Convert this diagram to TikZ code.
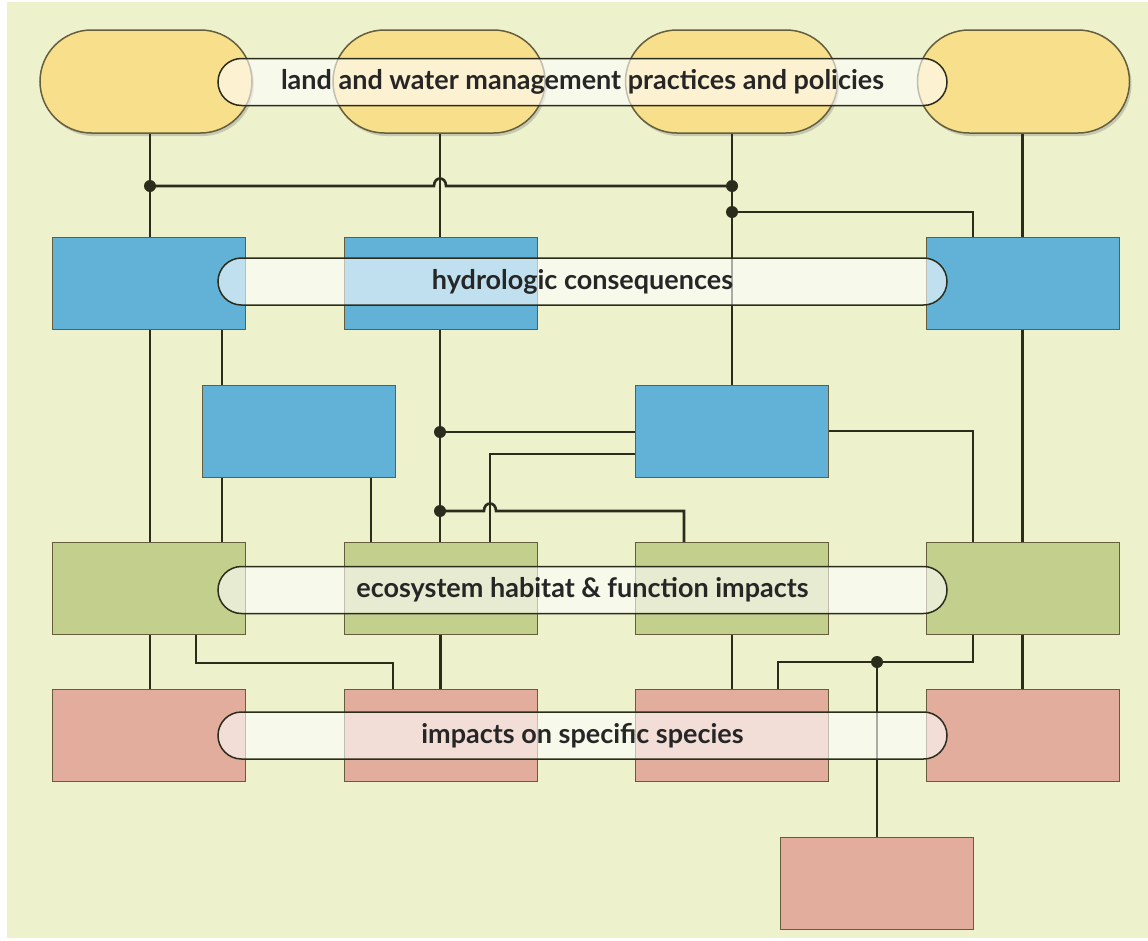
\documentclass[tikz,border=0pt]{standalone}
\usepackage{fontspec}
\setsansfont{Lato}
\usetikzlibrary{shapes.misc,shadows}

\definecolor{bgpale}{RGB}{237,241,204}
\definecolor{pillyellow}{RGB}{248,223,140}
\definecolor{hydroblue}{RGB}{98,178,216}
\definecolor{ecogreen}{RGB}{195,207,141}
\definecolor{speciesred}{RGB}{226,173,156}
\definecolor{wirecol}{RGB}{42,45,28}
\definecolor{rim}{RGB}{100,94,60}

\begin{document}
\begin{tikzpicture}[x=1pt,y=-1pt,
    link/.style={draw=wirecol,line width=2.6pt},
    actor/.style={rounded rectangle,draw=rim,line width=1.5pt,fill=pillyellow,
      minimum width=212pt,minimum height=103pt,inner sep=0pt,
      drop shadow={shadow xshift=2pt,shadow yshift=-3pt,opacity=0.35}},
    box/.style={rectangle,draw=rim,line width=1pt,minimum width=193pt,
      minimum height=92pt,inner sep=0pt},
    band/.style={rounded rectangle,draw=wirecol,line width=1.5pt,fill=white,
      fill opacity=0.6,text opacity=1,minimum width=729pt,minimum height=47pt,
      inner sep=0pt,text=black!85,
      font=\sffamily\bfseries\fontsize{27}{30}\selectfont}]
  \useasboundingbox (0,0) rectangle (1148,940);
  \fill[white] (0,0) rectangle (1148,940);
  \fill[bgpale] (7,2) rectangle (1148,938);

  % practices and policies
  \node[actor] (Y1) at (146,81.5) {};
  \node[actor] (Y2) at (439,81.5) {};
  \node[actor] (Y3) at (731.5,81.5) {};
  \node[actor] (Y4) at (1023.5,81.5) {};

  % hydrology
  \node[box,fill=hydroblue] (B1) at (148.5,283) {};
  \node[box,fill=hydroblue] (B2) at (440.5,283) {};
  \node[box,fill=hydroblue] (B4) at (1022.5,283) {};
  \node[box,fill=hydroblue] (B5) at (298.5,431) {};
  \node[box,fill=hydroblue] (B6) at (732,431) {};

  % ecosystem
  \node[box,fill=ecogreen] (G1) at (148.5,588.5) {};
  \node[box,fill=ecogreen] (G2) at (440.5,588.5) {};
  \node[box,fill=ecogreen] (G3) at (732,588.5) {};
  \node[box,fill=ecogreen] (G4) at (1022.5,588.5) {};

  % species
  \node[box,fill=speciesred] (R1) at (148.5,735) {};
  \node[box,fill=speciesred] (R2) at (440.5,735) {};
  \node[box,fill=speciesred] (R3) at (732,735) {};
  \node[box,fill=speciesred] (R4) at (1022.5,735) {};
  \node[box,fill=speciesred] (R5) at (877,883) {};

  \coordinate (J1) at (150,186);
  \coordinate (J2) at (732,186);
  \coordinate (J3) at (732,212);
  \coordinate (J4) at (440,432);
  \coordinate (J5) at (440,511);
  \coordinate (J6) at (877,662);

  \draw[link] (Y1.south -| J1) -- (B1.north -| J1);
  \draw[link] (J1) -- (434,186) .. controls (434,176) and (446,176) .. (446,186) -- (J2);
  \draw[link] (Y2.south -| J4) -- (B2.north -| J4);
  \draw[link] (Y3.south -| J2) -- (B6.north -| J2);
  \draw[link] (J3) -| ([xshift=-49.5pt]B4.north);
  \draw[link] (Y4.south -| B4) -- (B4.north);

  \draw[link] (B1.south -| J1) -- (G1.north -| J1);
  \draw[link] ([xshift=73.5pt]B1.south) -- ([xshift=-76.5pt]B5.north);
  \draw[link] ([xshift=-76.5pt]B5.south) -- ([xshift=73.5pt]G1.north);
  \draw[link] ([xshift=72.5pt]B5.south) -- ([xshift=-69.5pt]G2.north);
  \draw[link] (B2.south -| J4) -- (J4) -- (J5) -- (G2.north -| J5);
  \draw[link] (J4) -- (B6.west |- J4);
  \draw[link] ([yshift=-23pt]B6.west) -| ([xshift=49.5pt]G2.north);
  \draw[link] (J5) -- (484,511) .. controls (484,501) and (496,501) .. (496,511)
    -| ([xshift=-48pt]G3.north);
  \draw[link] (B6.east) -| ([xshift=-49.5pt]G4.north);
  \draw[link] (B4.south) -- (G4.north);

  \draw[link] (G1.south -| J1) -- (R1.north -| J1);
  \draw[link] ([xshift=47.5pt]G1.south) -- ++(0,28) -| ([xshift=-47.5pt]R2.north);
  \draw[link] (G2.south) -- (R2.north);
  \draw[link] (G3.south) -- (R3.north);
  \draw[link] ([xshift=46pt]R3.north) |- (J6) -| ([xshift=-49.5pt]G4.south);
  \draw[link] (J6) -- (R5.north);
  \draw[link] (G4.south) -- (R4.north);

  \foreach \j in {J1,J2,J3,J4,J5,J6}
    \fill[wirecol] (\j) circle (6);

  % row labels
  \node[band] (L1) at (582.5,82) {land and water management practices and policies};
  \node[band] (L2) at (582.5,281.5) {hydrologic consequences};
  \node[band] (L3) at (582.5,590) {ecosystem habitat \& function impacts};
  \node[band] (L4) at (582.5,735.5) {impacts on specific species};
\end{tikzpicture}
\end{document}
